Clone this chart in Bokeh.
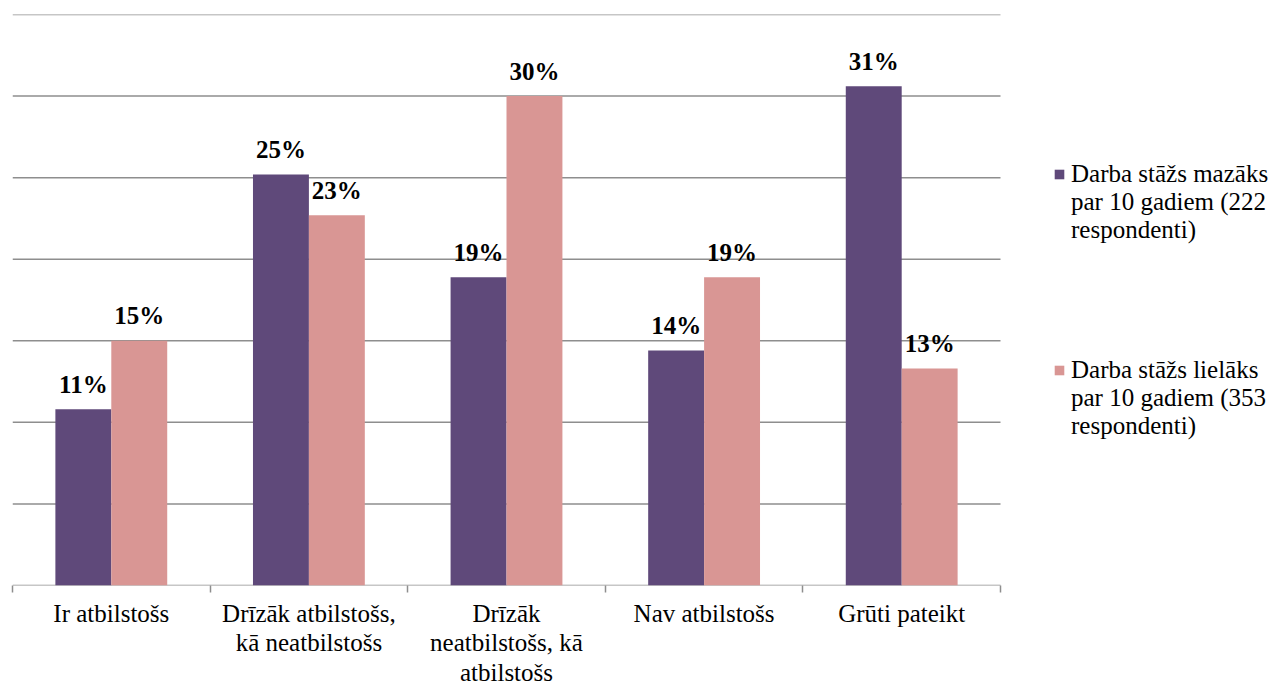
from bokeh.plotting import figure
from bokeh.models import (Range1d, LinearAxis, FixedTicker, Legend, LegendItem,
                          ColumnDataSource)
from bokeh.core.properties import value
from bokeh.embed import file_html
from bokeh.resources import INLINE

# ---- data ----
categories = ["Ir atbilstošs", "Drīzāk atbilstošs,\nkā neatbilstošs",
              "Drīzāk\nneatbilstošs, kā\natbilstošs", "Nav atbilstošs", "Grūti pateikt"]
series_lines = [["Darba stāžs mazāks", "par 10 gadiem (222", "respondenti)"],
                ["Darba stāžs lielāks", "par 10 gadiem (353", "respondenti)"]]
less_10 = [10.8, 25.2, 18.9, 14.4, 30.6]
more_10 = [15.0, 22.7, 30.0, 18.9, 13.3]
y_ticks = [0, 5, 10, 15, 20, 25, 30, 35]
colors = ["#5F497A", "#D99694"]

FONT = "'Liberation Serif', 'Times New Roman', 'DejaVu Serif', serif"
FW, FH = 1261, 571
plot_w = 988  # pixel width of the category area
n = len(categories)
bar_w = 0.283

p = figure(frame_width=FW, frame_height=FH, output_backend="svg", toolbar_location=None,
           x_axis_type=None, y_axis_type=None,
           x_range=Range1d(0, n * FW / plot_w), y_range=Range1d(0, y_ticks[-1]),
           min_border_left=12, min_border_top=14, min_border_right=0, min_border_bottom=0)
p.outline_line_color = None
p.xgrid.visible = False
p.ygrid.visible = False

# gridlines (at tick values, across the category area)
p.segment(x0=[0] * len(y_ticks), x1=[n] * len(y_ticks), y0=y_ticks, y1=y_ticks,
          line_color="#8E8E8E", line_width=1.5)

centers = [i + 0.5 for i in range(n)]
renderers = []
for k, (vals, col) in enumerate(zip([less_10, more_10], colors)):
    xs = [c + (k - 0.5) * bar_w for c in centers]
    src = ColumnDataSource(dict(x=xs, top=vals, lab=[f"{round(v)}%" for v in vals]))
    r = p.vbar(x="x", top="top", width=bar_w, bottom=0, source=src,
               fill_color=col, line_color=None)
    renderers.append(r)
    p.text(x="x", y="top", text="lab", source=src, text_align="center",
           text_baseline="alphabetic", y_offset=-25,
           text_font=value(FONT), text_font_style="bold", text_font_size="25px",
           text_color="black")

# x axis: labels at category centres, ticks at boundaries
xa = LinearAxis(ticker=FixedTicker(ticks=centers, minor_ticks=list(range(n + 1))))
xa.axis_line_color = None
xa.major_tick_out = 0
xa.major_tick_in = 0
xa.minor_tick_out = 7
xa.minor_tick_in = 0
xa.minor_tick_line_color = "#8E8E8E"
xa.minor_tick_line_width = 1.5
xa.major_label_overrides = {c: lab for c, lab in zip(centers, categories)}
xa.major_label_text_font = FONT
xa.major_label_text_font_size = "25px"
xa.major_label_text_color = "black"
xa.major_label_text_line_height = 1.1
xa.major_label_standoff = 7
p.add_layout(xa, "below")

# legend: first line carries the swatch; following lines and gap use a blank renderer
blank = p.vbar(x=[], top=[], width=0, fill_alpha=0, line_alpha=0)
items = []
for s, (lines, r) in enumerate(zip(series_lines, renderers)):
    items.append(LegendItem(label=lines[0], renderers=[r]))
    for ln in lines[1:]:
        items.append(LegendItem(label=ln, renderers=[blank]))
    if s == 0:
        for j in range(4):
            items.append(LegendItem(label=" " * (j + 1), renderers=[blank]))

legend = Legend(items=items, location=(1041, 145))
legend.border_line_color = None
legend.background_fill_alpha = 0
legend.padding = 0
legend.margin = 0
legend.spacing = 0
legend.label_height = 28
legend.glyph_width = 12
legend.glyph_height = 12
legend.label_standoff = 6
legend.label_text_font = FONT
legend.label_text_font_size = "25px"
legend.label_text_line_height = 1.1
legend.label_text_color = "black"
p.add_layout(legend)

open("out.html", "w").write(file_html(p, INLINE))
